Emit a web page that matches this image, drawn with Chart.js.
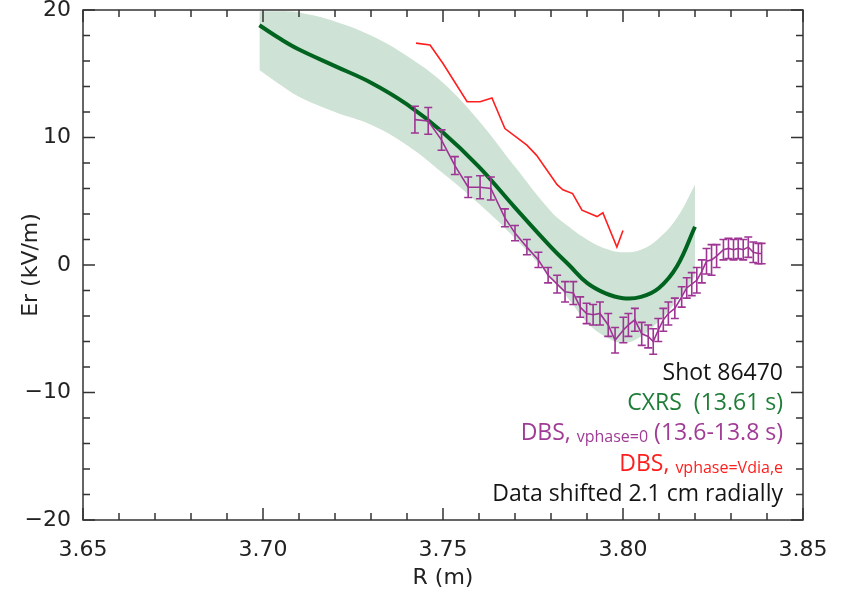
<!DOCTYPE html>
<html>
<head>
<meta charset="utf-8">
<script src="https://cdn.jsdelivr.net/npm/chart.js@4.4.1/dist/chart.umd.min.js"></script>
<style>
html,body{margin:0;padding:0;background:#fff;}
#wrap{width:843px;height:593px;position:relative;}
</style>
</head>
<body>
<div id="wrap"><canvas id="c" width="843" height="593"></canvas></div>
<script>
// CXRS profile and uncertainty band
const R_CXRS   = [3.699, 3.705, 3.71, 3.72, 3.73, 3.74, 3.75, 3.76, 3.77, 3.78, 3.785, 3.79, 3.795, 3.80, 3.805, 3.81, 3.815, 3.82];
const ER_CXRS  = [18.8, 17.7, 16.9, 15.6, 14.3, 12.6, 10.4, 7.7, 4.5, 1.4, 0.0, -1.4, -2.2, -2.6, -2.5, -1.8, -0.1, 3.0];
const ER_UPPER = [19.9, 19.9, 19.8, 19.1, 18.0, 16.4, 14.3, 11.3, 7.7, 4.2, 3.0, 2.0, 1.3, 1.0, 1.2, 2.1, 3.7, 6.3];
const ER_LOWER = [15.3, 14.1, 13.2, 12.0, 11.0, 9.4, 7.2, 4.8, 2.1, -1.0, -2.7, -4.5, -5.6, -6.1, -5.6, -4.4, -2.8, -0.9];

// DBS, v_phase = 0
const R_DBS   = [3.7422, 3.7459, 3.7496, 3.7533, 3.7570, 3.7603, 3.7633, 3.7672, 3.7700, 3.7733, 3.7765, 3.7792, 3.7817, 3.7839, 3.7862, 3.7881, 3.7899, 3.7917, 3.7936, 3.7959, 3.7978, 3.8001, 3.8015, 3.8033, 3.8052, 3.8070, 3.8084, 3.8098, 3.8112, 3.8126, 3.8144, 3.8163, 3.8177, 3.8191, 3.8205, 3.8219, 3.8232, 3.8246, 3.8260, 3.8279, 3.8293, 3.8307, 3.8320, 3.8334, 3.8348, 3.8362, 3.8376, 3.8385];
const ER_DBS  = [11.4, 11.3, 9.8, 7.8, 6.1, 6.1, 6.0, 3.7, 2.5, 1.4, 0.4, -0.8, -1.5, -2.1, -2.2, -3.3, -3.8, -3.9, -3.8, -4.7, -5.9, -5.1, -4.7, -4.3, -5.4, -5.6, -6.0, -5.1, -4.3, -3.8, -3.4, -2.5, -1.8, -1.5, -1.2, -0.5, 0.3, 0.4, 0.7, 1.2, 1.3, 1.2, 1.3, 1.2, 1.4, 1.0, 0.9, 0.9];
const ERR_DBS = [1.05, 1.05, 0.8, 0.7, 0.8, 0.9, 0.9, 0.7, 0.6, 0.6, 0.6, 0.6, 0.7, 0.8, 0.9, 0.8, 0.8, 0.8, 0.9, 0.9, 1.0, 1.0, 0.9, 0.9, 0.9, 0.9, 1.0, 0.9, 0.9, 0.9, 0.8, 0.8, 0.8, 0.9, 1.0, 0.9, 1.0, 1.2, 0.9, 0.8, 0.8, 0.8, 0.8, 0.8, 0.8, 0.8, 0.8, 0.8];

// DBS, v_phase = v_dia,e
const R_VDIA  = [3.7425, 3.7464, 3.7500, 3.7567, 3.7603, 3.7636, 3.7672, 3.7733, 3.7760, 3.7817, 3.7833, 3.7860, 3.7886, 3.7928, 3.7944, 3.7983, 3.8000];
const ER_VDIA = [17.4, 17.25, 15.8, 12.8, 12.8, 13.1, 10.7, 9.4, 8.6, 6.3, 5.9, 5.6, 4.3, 3.8, 4.1, 1.4, 2.7];

// axes
const X_MIN = 3.65, X_MAX = 3.85, X_MAJOR = 0.05, X_MINOR = 0.01;
const Y_MIN = -20, Y_MAX = 20, Y_MAJOR = 10, Y_MINOR = 2;
const X_TITLE = 'R (m)';
const Y_TITLE = 'Er (kV/m)';

const GREEN = 'rgb(0,100,32)';
const BAND = 'rgb(206,226,213)';
const PURPLE = 'rgb(158,52,148)';
const RED = 'rgb(255,30,30)';
const TICKFONT = '"DejaVu Sans", sans-serif';
const TXTFONT = '"Open Sans", "Noto Sans", sans-serif';

const pts = (xs, ys) => xs.map((x, i) => ({x: x, y: ys[i]}));

const frame = {
  id: 'frame',
  afterDatasetDraw(chart, args) {
    if (args.index !== 2) return;
    const ds = chart.data.datasets[2];
    const meta = chart.getDatasetMeta(2);
    const ys = chart.scales.y;
    const ctx = chart.ctx;
    ctx.save();
    ctx.strokeStyle = PURPLE;
    ctx.lineWidth = 1.6;
    meta.data.forEach((el, i) => {
      const e = ds.err[i];
      const v = ds.data[i].y;
      const x = el.x;
      const y1 = ys.getPixelForValue(v + e), y2 = ys.getPixelForValue(v - e);
      ctx.beginPath();
      ctx.moveTo(x, y1); ctx.lineTo(x, y2);
      ctx.moveTo(x - 4, y1); ctx.lineTo(x + 4, y1);
      ctx.moveTo(x - 4, y2); ctx.lineTo(x + 4, y2);
      ctx.stroke();
    });
    ctx.restore();
  },
  afterDraw(chart) {
    const ctx = chart.ctx;
    const a = chart.chartArea;
    const xs = chart.scales.x, ys = chart.scales.y;
    ctx.save();
    ctx.strokeStyle = '#333';
    ctx.lineWidth = 1.5;
    ctx.strokeRect(a.left, a.top, a.right - a.left, a.bottom - a.top);
    ctx.beginPath();
    const nx = Math.round((X_MAX - X_MIN) / X_MINOR);
    for (let i = 0; i <= nx; i++) {
      const v = X_MIN + i * X_MINOR;
      const px = xs.getPixelForValue(v);
      const len = (i % 5 === 0) ? 12 : 7;
      ctx.moveTo(px, a.bottom); ctx.lineTo(px, a.bottom - len);
      ctx.moveTo(px, a.top); ctx.lineTo(px, a.top + len);
    }
    const ny = Math.round((Y_MAX - Y_MIN) / Y_MINOR);
    for (let i = 0; i <= ny; i++) {
      const v = Y_MIN + i * Y_MINOR;
      const py = ys.getPixelForValue(v);
      const len = (i % 5 === 0) ? 12 : 7;
      ctx.moveTo(a.left, py); ctx.lineTo(a.left + len, py);
      ctx.moveTo(a.right, py); ctx.lineTo(a.right - len, py);
    }
    ctx.stroke();

    // axis titles
    ctx.fillStyle = '#222';
    ctx.font = '22px ' + TICKFONT;
    ctx.textAlign = 'center';
    ctx.textBaseline = 'middle';
    ctx.fillText(X_TITLE, (a.left + a.right) / 2, 578);
    ctx.save();
    ctx.translate(31, (a.top + a.bottom) / 2);
    ctx.rotate(-Math.PI / 2);
    ctx.fillText(Y_TITLE, 0, 0);
    ctx.restore();

    // annotation text, right aligned
    const right = 783;
    const big = '23px ' + TXTFONT, small = '16px ' + TXTFONT;
    const lines = [
      {y: 380, parts: [['Shot 86470', big, '#151515', 0]]},
      {y: 410, parts: [['CXRS  (13.61 s)', big, 'rgb(30,125,55)', 0]]},
      {y: 440, parts: [['DBS, ', big, 'rgb(160,60,150)', 0], ['vphase=0', small, 'rgb(160,60,150)', 2], [' (13.6-13.8 s)', big, 'rgb(160,60,150)', 0]]},
      {y: 471, parts: [['DBS, ', big, RED, 0], ['vphase=Vdia,e', small, RED, 2]]},
      {y: 501, parts: [['Data shifted 2.1 cm radially', big, '#151515', 0]]}
    ];
    ctx.textAlign = 'left';
    ctx.textBaseline = 'alphabetic';
    lines.forEach(l => {
      let w = 0;
      l.parts.forEach(p => { ctx.font = p[1]; w += ctx.measureText(p[0]).width; });
      let x = right - w;
      l.parts.forEach(p => {
        ctx.font = p[1]; ctx.fillStyle = p[2];
        ctx.fillText(p[0], x, l.y + p[3]);
        x += ctx.measureText(p[0]).width;
      });
    });
    ctx.restore();
  }
};

new Chart(document.getElementById('c'), {
  type: 'line',
  data: {
    datasets: [
      {label: 'upper', data: pts(R_CXRS, ER_UPPER), borderWidth: 0, borderColor: 'rgba(0,0,0,0)', pointRadius: 0, fill: false, tension: 0.4, order: 10},
      {label: 'lower', data: pts(R_CXRS, ER_LOWER), borderWidth: 0, borderColor: 'rgba(0,0,0,0)', backgroundColor: BAND, pointRadius: 0, fill: '-1', tension: 0.4, order: 9},
      {label: 'DBS vphase=0', data: pts(R_DBS, ER_DBS), err: ERR_DBS, borderColor: PURPLE, borderWidth: 1.6, pointRadius: 0, fill: false, tension: 0, order: 1},
      {label: 'CXRS', data: pts(R_CXRS, ER_CXRS), borderColor: GREEN, borderWidth: 4, pointRadius: 0, fill: false, tension: 0.4, order: 3},
      {label: 'DBS vdia', data: pts(R_VDIA, ER_VDIA), borderColor: RED, borderWidth: 1.6, pointRadius: 0, fill: false, tension: 0, order: 2}
    ]
  },
  options: {
    animation: false,
    responsive: false,
    events: [],
    layout: {padding: {left: 0, right: 40, top: 10, bottom: 0}},
    plugins: {legend: {display: false}, tooltip: {enabled: false}},
    scales: {
      x: {
        type: 'linear', min: X_MIN, max: X_MAX,
        grid: {display: false, drawTicks: false},
        border: {display: false},
        ticks: {stepSize: X_MAJOR, padding: 17, color: '#222', font: {family: TICKFONT, size: 22},
          callback: v => Number(v).toFixed(2), maxRotation: 0, autoSkip: false},
        afterFit: s => { s.height = 73; s.paddingLeft = 0; s.paddingRight = 0; }
      },
      y: {
        min: Y_MIN, max: Y_MAX,
        grid: {display: false, drawTicks: false},
        border: {display: false},
        ticks: {stepSize: Y_MAJOR, padding: 12, color: '#222', font: {family: TICKFONT, size: 22},
          callback: v => (v < 0 ? '\u2212' + Math.abs(v) : String(v))},
        afterFit: s => { s.width = 83; s.paddingTop = 0; s.paddingBottom = 0; }
      }
    }
  },
  plugins: [frame]
});
</script>
</body>
</html>
